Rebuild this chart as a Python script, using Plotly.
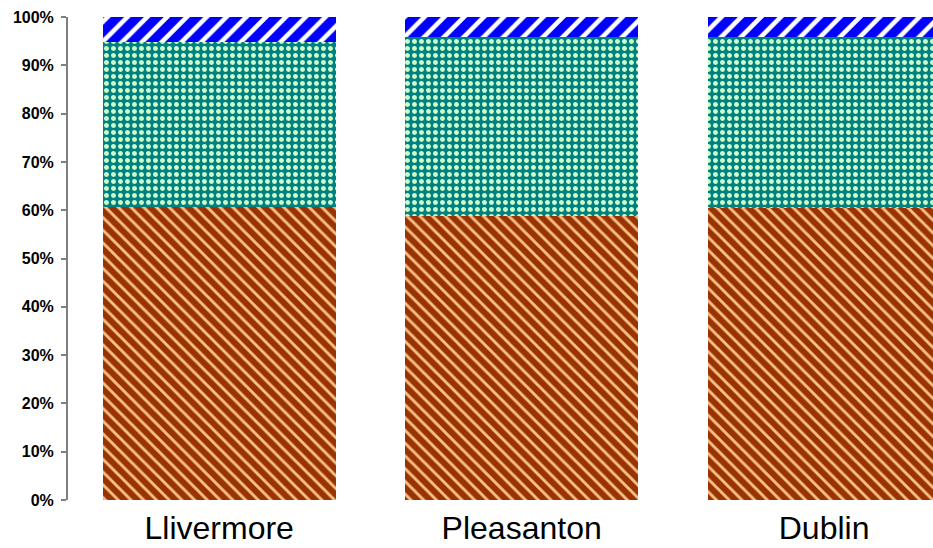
import plotly.graph_objects as go

# Share of each city's total, stacked bottom to top (percent)
cities = ["Llivermore", "Pleasanton", "Dublin"]
share_bottom = [60.7, 58.7, 60.5]
share_middle = [34.2, 37.1, 35.3]
share_top = [5.1, 4.2, 4.2]
y_ticks = list(range(0, 101, 10))
y_tick_labels = [f"{v}%" for v in y_ticks]

fig = go.Figure()

fig.add_trace(go.Bar(
    x=cities, y=share_bottom, name="bottom",
    marker=dict(
        color="#FFCC99",
        line=dict(width=0),
        pattern=dict(shape="\\", fgcolor="#F9C08A", bgcolor="#993300",
                     size=9, solidity=0.32, fillmode="replace"),
    ),
))
fig.add_trace(go.Bar(
    x=cities, y=share_middle, name="middle",
    marker=dict(
        color="#CCFFCC",
        line=dict(width=0),
        pattern=dict(shape=".", fgcolor="#CCFFCC", bgcolor="#008080",
                     size=7, solidity=0.4, fillmode="replace"),
    ),
))
fig.add_trace(go.Bar(
    x=cities, y=share_top, name="top",
    marker=dict(
        color="#FFFFFF",
        line=dict(width=0),
        pattern=dict(shape="/", fgcolor="#FFFFFF", bgcolor="#0000FF",
                     size=14, solidity=0.33, fillmode="replace"),
    ),
))

fig.update_layout(
    width=933, height=548,
    margin=dict(l=68, r=0, t=17, b=48),
    barmode="stack",
    bargap=0.23,
    showlegend=False,
    plot_bgcolor="white",
    paper_bgcolor="white",
    font=dict(family="Liberation Sans, Arial, sans-serif", color="black"),
)

fig.update_xaxes(
    type="category",
    range=[-0.5, 2.36],
    automargin=False,
    showline=False, showgrid=False, zeroline=False,
    ticks="",
    tickfont=dict(size=32, color="black"),
    ticklabelstandoff=6,
)
fig.update_yaxes(
    range=[0, 100],
    automargin=False,
    tickvals=y_ticks, ticktext=y_tick_labels,
    showgrid=False, zeroline=False,
    showline=True, linecolor="#808080", linewidth=2,
    ticks="outside", ticklen=5, tickwidth=1.5, tickcolor="#808080",
    tickfont=dict(size=16, color="black", family="Liberation Sans, Arial, sans-serif", weight="bold"),
    ticklabelstandoff=4,
)

fig.write_html("out.html")
